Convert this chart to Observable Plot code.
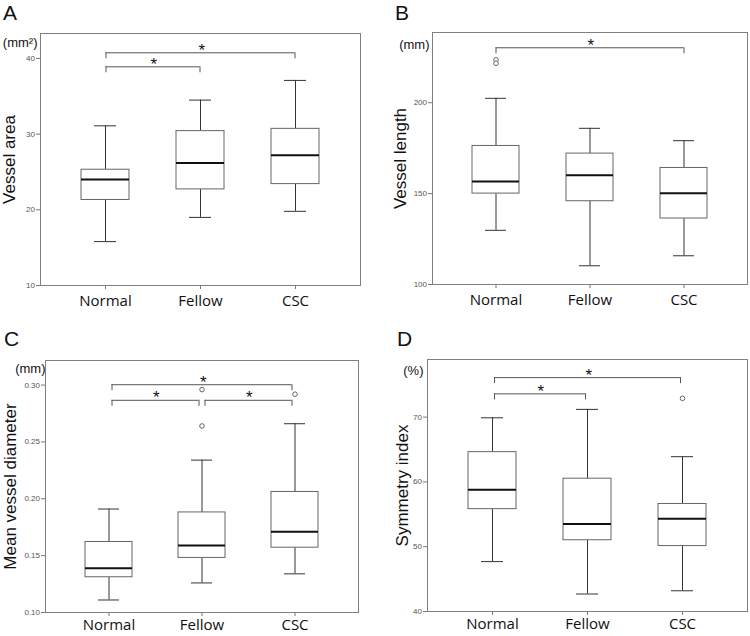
<!DOCTYPE html>
<html>
<head>
<meta charset="utf-8">
<script src="https://cdn.jsdelivr.net/npm/d3@7"></script>
<script src="https://cdn.jsdelivr.net/npm/@observablehq/plot@0.6"></script>
<style>
  body { margin: 0; background: #fff; }
  #fig { position: relative; width: 750px; height: 636px; background: #fff; overflow: hidden; }
  .panel { position: absolute; width: 375px; height: 318px; }
  .letter { position: absolute; font-family: "Liberation Sans", Arial, sans-serif; font-size: 21px; line-height: normal; color: #111; }
  .panel svg [aria-label^="x-axis"] text { font-family: "Open Sans", sans-serif; font-size: 15px; fill: #111; }
  .panel svg [aria-label^="y-axis"] text { font-family: "Liberation Sans", Arial, sans-serif; font-size: 8px; fill: #555; }
  .panel svg [aria-label^="x-axis"] line, .panel svg [aria-label^="x-axis"] path,
  .panel svg [aria-label^="y-axis"] line, .panel svg [aria-label^="y-axis"] path { stroke: #777; }
</style>
</head>
<body>
<div id="fig"></div>
<script>
// ---------- data ----------
const categories = ["Normal", "Fellow", "CSC"];

// A: Vessel area (mm²)
const areaLow  = [15.8, 19.0, 19.8];
const areaQ1   = [21.3, 22.7, 23.4];
const areaMed  = [24.0, 26.2, 27.2];
const areaQ3   = [25.3, 30.4, 30.7];
const areaHigh = [31.1, 34.5, 37.1];
const areaOutCat = [];
const areaOutVal = [];
const areaSigFrom = ["Normal", "Normal"];
const areaSigTo   = ["CSC", "Fellow"];
const areaSigLevel = [40.75, 38.9];
const areaTicks = [10, 20, 30, 40];

// B: Vessel length (mm)
const lengthLow  = [129.8, 110.3, 115.8];
const lengthQ1   = [150.0, 145.8, 136.3];
const lengthMed  = [156.6, 160.1, 150.2];
const lengthQ3   = [176.2, 172.0, 164.1];
const lengthHigh = [202.4, 185.9, 179.1];
const lengthOutCat = ["Normal", "Normal"];
const lengthOutVal = [223.6, 221.7];
const lengthSigFrom = ["Normal"];
const lengthSigTo   = ["CSC"];
const lengthSigLevel = [230.2];
const lengthTicks = [100, 150, 200];

// C: Mean vessel diameter (mm)
const diamLow  = [0.111, 0.126, 0.134];
const diamQ1   = [0.131, 0.148, 0.157];
const diamMed  = [0.139, 0.159, 0.171];
const diamQ3   = [0.162, 0.188, 0.206];
const diamHigh = [0.191, 0.234, 0.266];
const diamOutCat = ["Fellow", "Fellow", "CSC"];
const diamOutVal = [0.264, 0.296, 0.292];
const diamSigFrom = ["Normal", "Normal", "Fellow"];
const diamSigTo   = ["CSC", "Fellow", "CSC"];
const diamSigLevel = [0.3003, 0.2866, 0.2866];
const diamTicks = [0.10, 0.15, 0.20, 0.25, 0.30];

// D: Symmetry index (%)
const symLow  = [47.7, 42.7, 43.2];
const symQ1   = [55.8, 51.0, 50.1];
const symMed  = [58.8, 53.5, 54.3];
const symQ3   = [64.6, 60.5, 56.6];
const symHigh = [69.9, 71.2, 63.9];
const symOutCat = ["CSC"];
const symOutVal = [72.9];
const symSigFrom = ["Normal", "Normal"];
const symSigTo   = ["CSC", "Fellow"];
const symSigLevel = [76.1, 73.6];
const symTicks = [40, 50, 60, 70];

// ---------- drawing ----------
const W = 375, H = 318;
const padInner = 0.5, padOuter = 0.42;

function panel(cfg) {
  const rows = categories.map((c, i) => ({cat: c, low: cfg.low[i], q1: cfg.q1[i], med: cfg.med[i], q3: cfg.q3[i], high: cfg.high[i]}));
  const outs = cfg.outCat.map((c, i) => ({cat: c, val: cfg.outVal[i]}));
  const m = cfg.margin;
  const innerH = H - m.top - m.bottom;
  const innerW = W - m.left - m.right;
  const perPx = (cfg.domain[1] - cfg.domain[0]) / innerH;
  const drop = 6 * perPx;
  const sig = cfg.sigFrom.map((f, i) => ({from: f, to: cfg.sigTo[i], level: cfg.sigLevel[i], tip: cfg.sigLevel[i] - drop}));
  const step = innerW / (categories.length - padInner + 2 * padOuter);
  const halfBand = step * (1 - padInner) / 2;
  const stroke = "#555";
  const starMarks = sig.map(s => Plot.text([s], {
    x: "from", y: "level", text: () => "*",
    dx: (categories.indexOf(s.to) - categories.indexOf(s.from)) / 2 * step + 0.5,
    dy: 3, lineAnchor: "bottom", textAnchor: "middle", fontSize: 17, fill: "#111",
    fontFamily: "Liberation Sans, Arial, sans-serif"
  }));
  return Plot.plot({
    width: W, height: H,
    marginLeft: m.left, marginRight: m.right, marginTop: m.top, marginBottom: m.bottom,
    style: {background: "transparent", overflow: "visible", fontFamily: "Liberation Sans, Arial, sans-serif"},
    x: {type: "band", domain: categories, paddingInner: padInner, paddingOuter: padOuter, tickSize: 4, tickPadding: cfg.xPad, label: null},
    y: {domain: cfg.domain, ticks: cfg.ticks, tickFormat: cfg.fmt, tickSize: 4, tickPadding: 1.5, label: null},
    marks: [
      Plot.ruleX(rows, {x: "cat", y1: "low", y2: "q1", stroke: "#333"}),
      Plot.ruleX(rows, {x: "cat", y1: "q3", y2: "high", stroke: "#333"}),
      Plot.tickY(rows, {x: "cat", y: "low", insetLeft: 13, insetRight: 13, stroke: "#333"}),
      Plot.tickY(rows, {x: "cat", y: "high", insetLeft: 13, insetRight: 13, stroke: "#333"}),
      Plot.barY(rows, {x: "cat", y1: "q1", y2: "q3", fill: "#fff", stroke: "#666"}),
      Plot.tickY(rows, {x: "cat", y: "med", stroke: "#111", strokeWidth: 2}),
      Plot.dot(outs, {x: "cat", y: "val", r: 2.3, stroke: "#666", fill: "#fff", strokeWidth: 1}),
      Plot.ruleY(sig, {x1: "from", x2: "to", y: "level", insetLeft: halfBand + cfg.inset, insetRight: halfBand + cfg.inset, stroke}),
      Plot.ruleX(sig, {x: "from", y1: "level", y2: "tip", dx: cfg.inset, stroke}),
      Plot.ruleX(sig, {x: "to", y1: "level", y2: "tip", dx: -cfg.inset, stroke}),
      ...starMarks,
      Plot.text([cfg.unit], {frameAnchor: "top-left", text: d => d, textAnchor: "end", lineAnchor: "middle", dx: cfg.unitDx, dy: cfg.unitDy, fontSize: 13, fill: "#111"}),
      Plot.text([cfg.label], {frameAnchor: "left", text: d => d, rotate: -90, textAnchor: "middle", lineAnchor: "middle", dx: cfg.labelX - m.left, fontSize: 17, fill: "#111"}),
      Plot.frame({stroke: "#808080"})
    ]
  });
}

const panels = [
  {letter: "A", left: 0, top: 0, letterPos: [3, 1],
   low: areaLow, q1: areaQ1, med: areaMed, q3: areaQ3, high: areaHigh, outCat: areaOutCat, outVal: areaOutVal,
   sigFrom: areaSigFrom, sigTo: areaSigTo, sigLevel: areaSigLevel, ticks: areaTicks, fmt: d3.format("d"),
   domain: [10, 43.3], margin: {left: 40, right: 15, top: 33, bottom: 33}, inset: 0.5, xPad: 6,
   unit: "(mm²)", unitDx: -3, unitDy: 9, label: "Vessel area", labelX: 9},
  {letter: "B", left: 375, top: 0, letterPos: [20, 1],
   low: lengthLow, q1: lengthQ1, med: lengthMed, q3: lengthQ3, high: lengthHigh, outCat: lengthOutCat, outVal: lengthOutVal,
   sigFrom: lengthSigFrom, sigTo: lengthSigTo, sigLevel: lengthSigLevel, ticks: lengthTicks, fmt: d3.format("d"),
   domain: [100, 238.6], margin: {left: 57, right: 3, top: 32, bottom: 34}, inset: 0, xPad: 6,
   unit: "(mm)", unitDx: -3, unitDy: 12, label: "Vessel length", labelX: 25.5},
  {letter: "C", left: 0, top: 318, letterPos: [4, 9],
   low: diamLow, q1: diamQ1, med: diamMed, q3: diamQ3, high: diamHigh, outCat: diamOutCat, outVal: diamOutVal,
   sigFrom: diamSigFrom, sigTo: diamSigTo, sigLevel: diamSigLevel, ticks: diamTicks, fmt: d3.format(".2f"),
   domain: [0.10, 0.3216], margin: {left: 45, right: 17, top: 42, bottom: 24}, inset: 3, xPad: 3,
   unit: "(mm)", unitDx: 0, unitDy: 8, label: "Mean vessel diameter", labelX: 10},
  {letter: "D", left: 375, top: 318, letterPos: [22, 9],
   low: symLow, q1: symQ1, med: symMed, q3: symQ3, high: symHigh, outCat: symOutCat, outVal: symOutVal,
   sigFrom: symSigFrom, sigTo: symSigTo, sigLevel: symSigLevel, ticks: symTicks, fmt: d3.format("d"),
   domain: [40, 78.9], margin: {left: 52, right: 3, top: 41, bottom: 25}, inset: 2, xPad: 3,
   unit: "(%)", unitDx: -4, unitDy: 11, label: "Symmetry index", labelX: 27}
];

const fig = document.getElementById("fig");
for (const p of panels) {
  const div = document.createElement("div");
  div.className = "panel";
  div.style.left = p.left + "px";
  div.style.top = p.top + "px";
  div.appendChild(panel(p));
  const letter = document.createElement("div");
  letter.className = "letter";
  letter.textContent = p.letter;
  letter.style.left = p.letterPos[0] + "px";
  letter.style.top = p.letterPos[1] + "px";
  div.appendChild(letter);
  fig.appendChild(div);
}
</script>
</body>
</html>
